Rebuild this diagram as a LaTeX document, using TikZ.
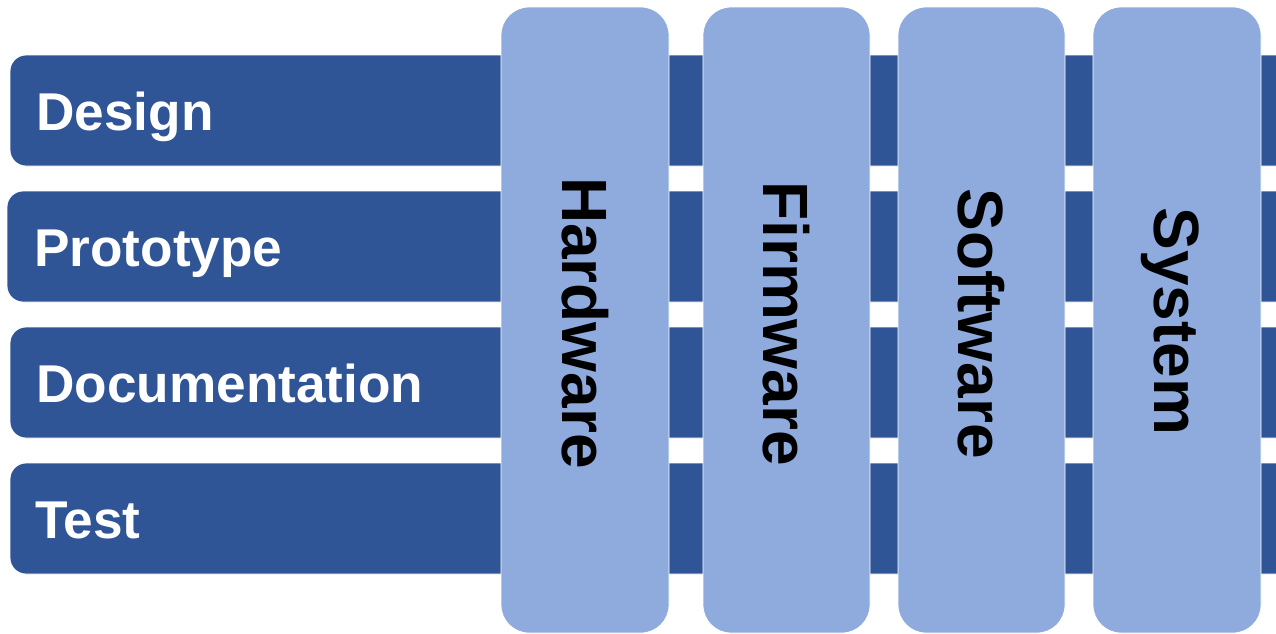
\documentclass[tikz,border=0pt]{standalone}
\usepackage{fontspec}
\setmainfont{Liberation Sans}
\definecolor{darkbar}{HTML}{2F5597}
\definecolor{lightbar}{HTML}{8FAADC}
\begin{document}
\begin{tikzpicture}[x=1pt,y=-1pt,
 hbar/.style={fill=darkbar, draw=white, line width=0.8pt, rounded corners=16pt},
 vbar/.style={fill=lightbar, draw=white, line width=0.8pt, rounded corners=28pt},
 hlabel/.style={anchor=base west, text=white, font=\fontsize{53.2}{60}\selectfont\bfseries, inner sep=0pt},
 vlabel/.style={anchor=base, rotate=-90, text=black, font=\fontsize{64}{72}\selectfont\bfseries, inner sep=0pt}]
\useasboundingbox (0,0) rectangle (1276,633);
\clip (0,0) rectangle (1276,633);
% horizontal bars
\draw[hbar] (10,55) rectangle (1320,166);
\draw[hbar] (7,191) rectangle (1320,302);
\draw[hbar] (10,327) rectangle (1320,438);
\draw[hbar] (10,463) rectangle (1320,574);
\node[hlabel] (design) at (36,130) {Design};
\node[hlabel] (proto) at (34,266) {Prototype};
\node[hlabel] (doc) at (36,402) {Documentation};
\node[hlabel] (test) at (35,538) {Test};
% vertical bars
\draw[vbar] (501,7) rectangle (669,633);
\draw[vbar] (703,7) rectangle (870,633);
\draw[vbar] (898,7) rectangle (1065,633);
\draw[vbar] (1093,7) rectangle (1261,633);
\node[vlabel] (hw) at (562,323) {Hardware};
\node[vlabel] (fw) at (763.5,323.5) {Firmware};
\node[vlabel] (sw) at (958.5,323.5) {Software};
\node[vlabel] (sys) at (1154,321.5) {System};
\end{tikzpicture}
\end{document}
